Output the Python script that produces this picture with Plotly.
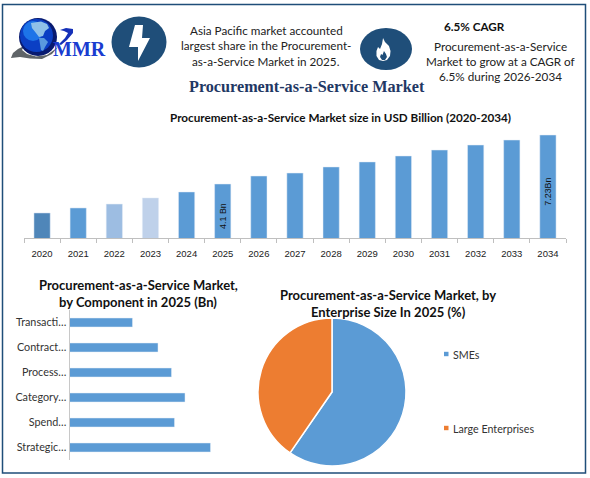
import plotly.graph_objects as go

W, H = 590, 478

# Market size chart
years = ["2020", "2021", "2022", "2023", "2024", "2025", "2026", "2027", "2028", "2029", "2030", "2031", "2032", "2033", "2034"]
market_size = [2.25, 2.57, 2.82, 3.21, 3.59, 4.1, 4.61, 4.80, 5.19, 5.51, 5.89, 6.27, 6.59, 6.91, 7.23]
size_labels = ["", "", "", "", "", "4.1 Bn", "", "", "", "", "", "", "", "", "7.23Bn"]
bar_colors = ["#4f86b9", "#5b9bd5", "#9dbde2", "#bfd1ea"] + ["#5b9bd5"] * 11

# Component chart
components = ["Strategic…", "Spend…", "Category…", "Process…", "Contract…", "Transacti…"]
component_values = [0.94, 0.70, 0.77, 0.68, 0.59, 0.42]

# Enterprise size pie
enterprise = ["SMEs", "Large Enterprises"]
enterprise_share = [59.6, 40.4]
enterprise_colors = ["#5b9bd5", "#ed7d31"]

NAVY = "#1f4e79"


def px(x):
    return x / W


def py(y):
    return 1 - y / H


fig = go.Figure()

fig.add_trace(go.Bar(x=years, y=market_size, marker_color=bar_colors, width=0.45,
                     text=size_labels, textposition="inside", insidetextanchor="middle",
                     textangle=-90, textfont=dict(family="Liberation Sans", size=9.5, color="#111111"),
                     hoverinfo="skip", xaxis="x", yaxis="y"))

fig.add_trace(go.Bar(y=components, x=component_values, orientation="h", marker_color="#5b9bd5",
                     hoverinfo="skip", xaxis="x2", yaxis="y2"))

fig.add_trace(go.Pie(labels=enterprise, values=enterprise_share, sort=False, direction="clockwise",
                     rotation=0, textinfo="none", showlegend=False, hoverinfo="skip",
                     marker=dict(colors=enterprise_colors, line=dict(color="white", width=1.5)),
                     domain=dict(x=[px(258), px(406)], y=[py(466), py(318)])))

fig.update_layout(
    width=W, height=H, margin=dict(l=0, r=0, t=0, b=0), paper_bgcolor="white", plot_bgcolor="white",
    showlegend=False, bargap=0.64,
    xaxis=dict(domain=[px(24), px(566)], anchor="y", type="category", tickson="boundaries",
               ticks="outside", ticklen=4, tickcolor="#bfbfbf", showgrid=False,
               showline=True, linecolor="#bfbfbf", linewidth=1, ticklabelstandoff=7,
               tickfont=dict(family="Liberation Sans", size=9.5, color="#222222")),
    yaxis=dict(domain=[py(238), py(130)], anchor="x", range=[0.65, 7.55], visible=False),
    xaxis2=dict(domain=[px(69.5), px(219.5)], anchor="y2", range=[0, 1], visible=False),
    yaxis2=dict(domain=[py(460), py(310)], anchor="x2", type="category", showgrid=False,
                showline=True, linecolor="#c8c8c8", linewidth=1, ticks="",
                tickfont=dict(family="Lato", size=10.8, color="#333333")),
)


def label(x, y, text, size=11.7, color="#222222", family="Lato"):
    fig.add_annotation(xref="paper", yref="paper", x=px(x), y=py(y), text=text, showarrow=False,
                       xanchor="center", yanchor="middle", font=dict(family=family, size=size, color=color))


# Top texts
label(266, 30, "Asia Pacific market accounted")
label(266, 45, "largest share in the Procurement-")
label(266, 61, "as-a-Service Market in 2025.")
label(474, 26, "<b>6.5% CAGR</b>", color="#111111")
label(500, 46, "Procurement-as-a-Service")
label(500, 61, "Market to grow at a CAGR of")
label(500, 76, "6.5% during 2026-2034")
label(306.5, 87, "<b>Procurement-as-a-Service Market</b>", size=16.2, color="#1f3864", family="Liberation Serif")
label(340, 117, "<b>Procurement-as-a-Service Market size in USD Billion (2020-2034)</b>", size=11.7, color="#111111")

# Lower chart titles
label(138, 285, "<b>Procurement-as-a-Service Market,</b>", size=13, color="#111111")
label(138, 302, "<b>by Component in 2025 (Bn)</b>", size=13, color="#111111")
label(388, 295, "<b>Procurement-as-a-Service Market, by</b>", size=13, color="#111111")
label(388, 312, "<b>Enterprise Size In 2025 (%)</b>", size=13, color="#111111")

# Pie legend, spaced far apart as in the original
for name, color, y in zip(enterprise, enterprise_colors, [354, 428]):
    fig.add_shape(type="rect", xref="paper", yref="paper", x0=px(444), x1=px(448.5), y0=py(y + 2.2), y1=py(y - 2.2),
                  fillcolor=color, line_width=0)
    fig.add_annotation(xref="paper", yref="paper", x=px(450.5), y=py(y), text=name, showarrow=False,
                       xanchor="left", yanchor="middle", font=dict(family="Lato", size=10.7, color="#333333"))


def to_path(points):
    return "M " + " L ".join(f"{px(a):.4f},{py(b):.4f}" for a, b in points) + " Z"


def circle(cx, cy, rx, ry, color):
    fig.add_shape(type="circle", xref="paper", yref="paper", x0=px(cx - rx), x1=px(cx + rx),
                  y0=py(cy + ry), y1=py(cy - ry), fillcolor=color, line_width=0)


def polygon(points, color):
    fig.add_shape(type="path", xref="paper", yref="paper", path=to_path(points), fillcolor=color, line_width=0)


# Frame
fig.add_shape(type="rect", xref="paper", yref="paper", x0=px(2.5), x1=px(585.5), y0=py(473), y1=py(4.5),
              line=dict(color=NAVY, width=1.5))

# Lightning badge
circle(139, 42, 27.5, 25.5, NAVY)
polygon([(143, 25), (135, 25), (129, 47), (138, 47), (138, 61), (150, 38), (142, 38)], "white")

# Flame badge
circle(386, 49, 26, 21, NAVY)
polygon([(383, 38), (385, 42), (389, 46), (390.5, 51), (390, 56), (387, 60), (383, 61), (379, 60), (376.5, 56), (376.5, 51),
         (378, 47), (380, 49), (382, 44)], "white")
polygon([(384, 51), (386, 54), (387, 57), (385, 60), (382, 60), (380, 57), (381, 54), (382.5, 55)], NAVY)

# MMR logo
polygon([(11, 58), (13, 53), (18, 49), (24, 46), (22, 50), (27, 54), (36, 56.5), (47, 55), (58, 47), (52, 54), (42, 59),
         (30, 58.5), (20, 57)], "#5f6468")
circle(38, 37, 19, 19, "#081a70")
circle(36.5, 35.5, 16.5, 16.5, "#0b3fc4")
circle(33, 31, 10, 10, "#1d74e8")
polygon([(31, 23), (41, 21.5), (47, 24), (49, 28), (45, 31), (43, 36), (39, 37), (36, 33), (32, 28)], "#8fc0e8")
polygon([(39, 38), (44, 38), (48, 42), (45, 47), (43, 51), (41, 50), (40, 44)], "#5a9ade")
polygon([(60, 30), (66, 28), (73, 29), (73, 33), (67, 40), (61, 45), (59, 44), (65, 38), (68, 33), (64, 31)], "#1530b8")
label(79, 48.5, "<b>MMR</b>", size=20, color="#1a3cd0", family="Liberation Serif")

fig.write_html("out.html", config=dict(displayModeBar=False), post_script="document.body.style.margin='0';")
